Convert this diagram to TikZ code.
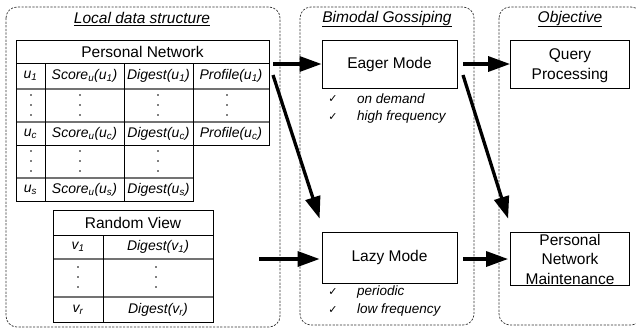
\documentclass[tikz,border=0pt]{standalone}
\usepackage{fontspec}
\setmainfont{Liberation Sans}
\newfontfamily\dejavu{DejaVu Sans}
\usetikzlibrary{arrows.meta}
\newcommand\mysub[1]{\textsubscript{#1}}
\begin{document}
\begin{tikzpicture}[x=1pt,y=-1pt,
  grp/.style={draw=black!80,line width=0.7pt,dash pattern=on 2.2pt off 1.4pt,rounded corners=11pt},
  ttl/.style={font=\fontsize{15.5}{18}\selectfont\itshape,inner sep=0pt},
  mainbox/.style={draw,line width=0.8pt,inner sep=0pt},
  maintxt/.style={font=\fontsize{15.5}{19.5}\selectfont,align=center,inner sep=0pt},
  cell/.style={font=\fontsize{14}{16}\selectfont\itshape,inner sep=0pt},
  hdr/.style={font=\fontsize{15.5}{18}\selectfont,inner sep=0pt},
  tline/.style={line width=0.8pt},
  gline/.style={line width=1.1pt,black!55},
  chk/.style={font=\fontsize{11}{13}\selectfont\dejavu,inner sep=0pt},
  chktxt/.style={font=\fontsize{13.5}{16}\selectfont\itshape,anchor=west,inner sep=0pt},
  arr/.style={line width=3.3pt,-{Triangle[length=22pt,width=15pt]}},
  dot/.style={fill,circle,inner sep=0pt,minimum size=1.8pt}
]
\clip (0,0) rectangle (636,333);
\useasboundingbox (0,0) rectangle (636,333);

% group frames
\draw[grp] (6,7) rectangle (280,327);
\draw[grp] (300,7) rectangle (474,325);
\draw[grp] (499,7) rectangle (642,325);
\node[ttl] (t1) at (142,19) {\underline{Local data structure}};
\node[ttl] (t2) at (387,19) {\underline{Bimodal Gossiping}};
\node[ttl] (t3) at (570,19) {\underline{Objective}};

% Personal Network table
\draw[gline] (16,89) -- (269,89);
\draw[gline] (16,122) -- (269,122);
\draw[gline] (16,178) -- (193,178);
\draw[tline] (16,40) rectangle (269,145);
\draw[tline] (16,145) -- (16,201) -- (193,201) -- (193,145);
\draw[tline] (16,63) -- (269,63);
\draw[tline] (16,145) -- (269,145);
\draw[tline] (45,63) -- (45,201);
\draw[tline] (124,63) -- (124,201);
\draw[tline] (193,63) -- (193,145);
\node[hdr] (pn) at (142.5,51.5) {Personal Network};
\node[cell] (u1) at (30.5,76) {u\mysub{1}};
\node[cell] (s1) at (84.5,76) {Score\mysub{u}(u\mysub{1})};
\node[cell] (d1) at (158.5,76) {Digest(u\mysub{1})};
\node[cell] (p1) at (231,76) {Profile(u\mysub{1})};
\node[cell] (uc) at (30.5,133.5) {u\mysub{c}};
\node[cell] (sc) at (84.5,133.5) {Score\mysub{u}(u\mysub{c})};
\node[cell] (dc) at (158.5,133.5) {Digest(u\mysub{c})};
\node[cell] (pc) at (231,133.5) {Profile(u\mysub{c})};
\node[cell] (us) at (30.5,189.5) {u\mysub{s}};
\node[cell] (ss) at (84.5,189.5) {Score\mysub{u}(u\mysub{s})};
\node[cell] (ds) at (158.5,189.5) {Digest(u\mysub{s})};
\foreach \x in {31,80,158,227}{
  \foreach \y in {95,105,115}{\node[dot] at (\x,\y) {};}}
\foreach \x in {31,80,158}{
  \foreach \y in {151,161,171}{\node[dot] at (\x,\y) {};}}

% Random View table
\draw[gline] (53,259) -- (213,259);
\draw[gline] (53,297) -- (213,297);
\draw[tline] (53,210) rectangle (213,322);
\draw[tline] (53,235) -- (213,235);
\draw[tline] (103,235) -- (103,322);
\node[hdr] (rv) at (133,222.5) {Random View};
\node[cell] (v1) at (78,247) {v\mysub{1}};
\node[cell] (dv1) at (158,247) {Digest(v\mysub{1})};
\node[cell] (vr) at (78,309.5) {v\mysub{r}};
\node[cell] (dvr) at (158,309.5) {Digest(v\mysub{r})};
\foreach \x in {78,156}{
  \foreach \y in {267,277,287}{\node[dot] at (\x,\y) {};}}

% mode boxes
\node[mainbox,minimum width=135pt,minimum height=48pt] (eager) at (389.5,64) {};
\node[maintxt] at (eager.center) {Eager Mode};
\node[mainbox,minimum width=135pt,minimum height=51pt] (lazy) at (389.5,257.5) {};
\node[maintxt] at (lazy.center) {Lazy Mode};
\node[mainbox,minimum width=119pt,minimum height=48pt] (query) at (570,64) {};
\node[maintxt] at ([yshift=-1.5pt]query.center) {Query\\Processing};
\node[mainbox,minimum width=119pt,minimum height=53pt] (pnm) at (570,258.5) {};
\node[maintxt] at ([yshift=-0.5pt]pnm.center) {Personal\\Network\\Maintenance};

% check lists
\node[chk] (c1) at (333,99) {✓};
\node[chktxt] (c1t) at (357,99) {on demand};
\node[chk] (c2) at (333,117) {✓};
\node[chktxt] (c2t) at (357,117) {high frequency};
\node[chk] (c3) at (333,292) {✓};
\node[chktxt] (c3t) at (357,292) {periodic};
\node[chk] (c4) at (333,310) {✓};
\node[chktxt] (c4t) at (357,310) {low frequency};

% arrows
\coordinate (pnA) at (273,64);
\coordinate (pnB) at (273,75);
\coordinate (rvA) at (259,259);
\coordinate (egA) at (463,64);
\coordinate (egB) at (463,75);
\coordinate (lzA) at (463,259);
\draw[arr] (pnA) -- (eager.west |- pnA);
\draw[arr] (pnB) -- ([shift={(-2pt,13pt)}]lazy.north west);
\draw[arr] (rvA) -- ([xshift=-2pt]lazy.west |- rvA);
\draw[arr] (egA) -- (query.west |- egA);
\draw[arr] (egB) -- ([shift={(-2pt,13pt)}]pnm.north west);
\draw[arr] (lzA) -- ([xshift=-2pt]pnm.west |- lzA);
\end{tikzpicture}
\end{document}
